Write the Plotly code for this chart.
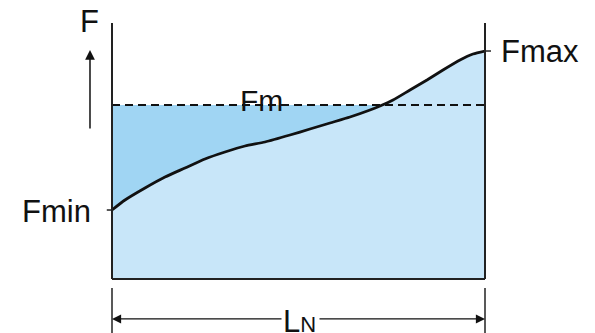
import plotly.graph_objects as go

# Data (normalised length 0..100, force 0..100)
x_pos = [0, 3.49, 8.85, 14.21, 19.57, 24.93, 30.29, 35.66, 41.02, 47.72, 53.08, 58.45,
         63.81, 69.17, 71.85, 75.34, 79.89, 84.45, 88.74, 93.30, 96.78, 100]
force = [26.95, 30.86, 35.55, 39.84, 43.36, 46.88, 49.61, 51.95, 53.52, 56.25, 58.59, 60.94,
         63.28, 66.02, 67.58, 69.92, 73.83, 77.73, 81.64, 85.55, 87.89, 89.06]
f_mean = 67.97

# crossing of curve and mean line (linear interpolation between neighbouring samples)
x_cross = x_pos[-1]
for i in range(len(force) - 1):
    if force[i] <= f_mean <= force[i + 1]:
        t = (f_mean - force[i]) / (force[i + 1] - force[i])
        x_cross = x_pos[i] + t * (x_pos[i + 1] - x_pos[i])
        break

DARK = "#a0d5f3"
LIGHT = "#c8e6f9"
INK = "#111111"
FONT = "Liberation Sans, Arial, sans-serif"

fig = go.Figure()
fig.add_trace(go.Scatter(x=[0, x_cross], y=[f_mean, f_mean], mode="lines",
                         line=dict(width=0, color=DARK), fill="tozeroy",
                         fillcolor=DARK, hoverinfo="skip"))
fig.add_trace(go.Scatter(x=x_pos, y=force, mode="lines",
                         line=dict(width=0, shape="spline", smoothing=0.6, color=LIGHT),
                         fill="tozeroy", fillcolor=LIGHT, hoverinfo="skip"))
fig.add_trace(go.Scatter(x=[0, 100], y=[f_mean, f_mean], mode="lines",
                         line=dict(color=INK, width=1.8, dash="8px,5px"), hoverinfo="skip"))
fig.add_trace(go.Scatter(x=x_pos, y=force, mode="lines",
                         line=dict(color=INK, width=2.8, shape="spline", smoothing=0.6),
                         hoverinfo="skip"))

shapes = []
frame = dict(color="#222222", width=2)
shapes.append(dict(type="line", xref="paper", yref="paper", x0=0, x1=0, y0=0, y1=1, line=frame))
shapes.append(dict(type="line", xref="paper", yref="paper", x0=1, x1=1, y0=0, y1=1, line=frame))
shapes.append(dict(type="line", xref="paper", yref="paper", x0=0, x1=1, y0=0, y1=0, line=frame))
shapes.append(dict(type="line", xref="paper", yref="y", x0=-0.014, x1=0, y0=force[0], y1=force[0],
                   line=dict(color="#222222", width=1.5)))
shapes.append(dict(type="line", xref="paper", yref="y", x0=1, x1=1.016, y0=force[-1], y1=force[-1],
                   line=dict(color="#222222", width=1.5)))
for xp in (0, 1):
    shapes.append(dict(type="line", xref="paper", yref="paper", x0=xp, x1=xp, y0=-0.035, y1=-0.23,
                       line=dict(color="#222222", width=1.5)))

annotations = [
    dict(text="F", xref="paper", yref="paper", x=-0.059, y=1.004, showarrow=False,
         font=dict(size=31, color=INK, family=FONT), xanchor="center", yanchor="middle"),
    dict(text="", xref="paper", yref="paper", x=-0.059, y=0.895, showarrow=True,
         ax=0, ay=80, arrowhead=2, arrowsize=1.3, arrowwidth=1.5, arrowcolor=INK),
    dict(text="Fmin", xref="paper", yref="y", x=-0.052, y=force[0], showarrow=False,
         font=dict(size=31, color=INK, family=FONT), xanchor="right", yanchor="middle", yshift=-1),
    dict(text="Fmax", xref="paper", yref="y", x=1.038, y=force[-1], showarrow=False,
         font=dict(size=31, color=INK, family=FONT), xanchor="left", yanchor="middle", yshift=0),
    dict(text="Fm", xref="x", yref="y", x=40, y=f_mean, showarrow=False,
         font=dict(size=30, color=INK, family=FONT), xanchor="center", yanchor="middle", yshift=5),
    dict(text="L<span style='font-size:22px'>N</span>", xref="paper", yref="paper", x=0.504, y=-0.165,
         showarrow=False, font=dict(size=31, color=INK, family=FONT), xanchor="center", yanchor="middle"),
    dict(text="", xref="paper", yref="paper", x=0, y=-0.156, showarrow=True,
         ax=171, ay=0, arrowhead=2, arrowsize=1.4, arrowwidth=1.3, arrowcolor=INK),
    dict(text="", xref="paper", yref="paper", x=1, y=-0.156, showarrow=True,
         ax=-167, ay=0, arrowhead=2, arrowsize=1.4, arrowwidth=1.3, arrowcolor=INK),
]

fig.update_layout(
    width=595, height=333,
    margin=dict(l=112, r=110, t=23, b=54),
    paper_bgcolor="white", plot_bgcolor="white",
    showlegend=False,
    xaxis=dict(range=[0, 100], visible=False, fixedrange=True),
    yaxis=dict(range=[0, 100], visible=False, fixedrange=True),
    shapes=shapes, annotations=annotations,
)

fig.write_html("out.html", config={"displayModeBar": False},
               post_script="document.body.style.margin='0';document.body.style.overflow='hidden';")
